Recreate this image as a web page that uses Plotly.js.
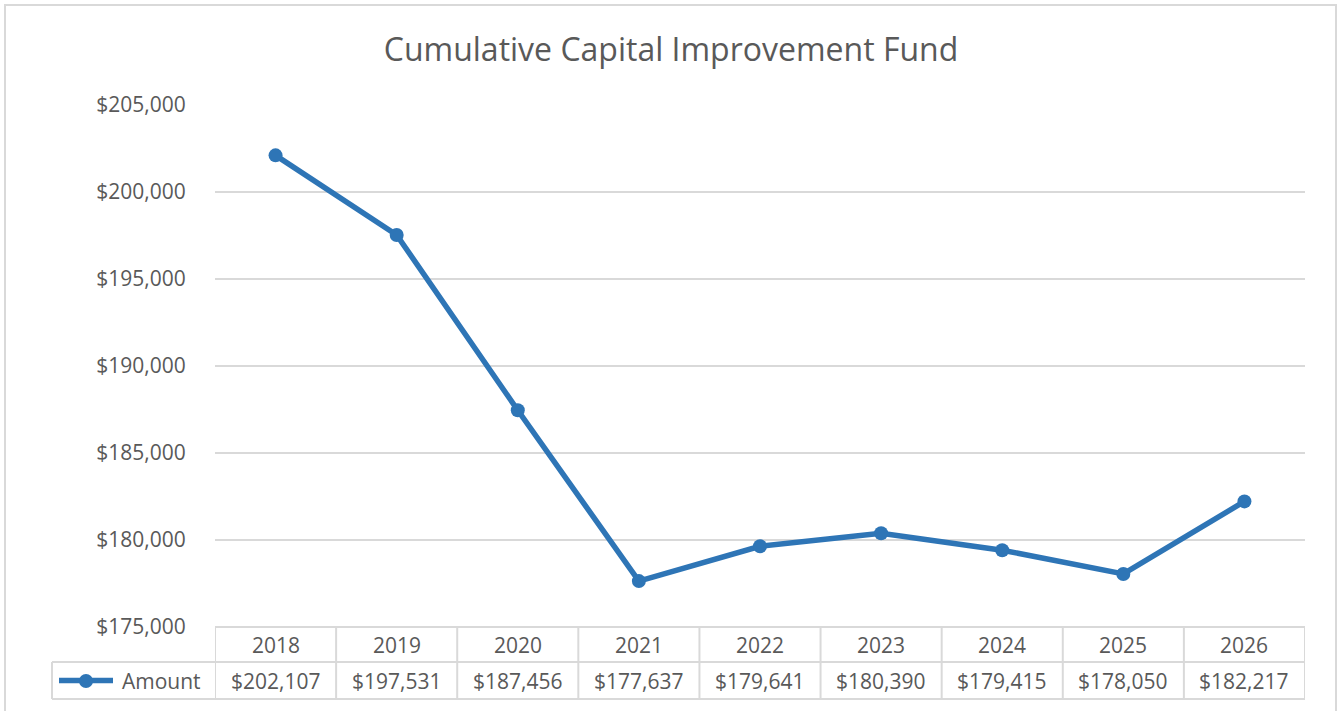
<!DOCTYPE html>
<html>
<head>
<meta charset="utf-8">
<script src="https://cdn.plot.ly/plotly-3.0.1.min.js"></script>
<style>html,body{margin:0;padding:0;background:#fff;}#chart{width:1342px;height:711px;}</style>
</head>
<body>
<div id="chart"></div>
<script>
const years = ['2018','2019','2020','2021','2022','2023','2024','2025','2026'];
const amount = [202107, 197531, 187456, 177637, 179641, 180390, 179415, 178050, 182217];
const seriesName = 'Amount';
const titleText = 'Cumulative Capital Improvement Fund';

const W = 1342, H = 711;
const L = 215, R = 1305, T = 105, B = 627;
const pw = R - L, ph = B - T;
const px = x => (x - L) / pw;
const py = y => (B - y) / ph;

const lineCol = '#d9d9d9';
const textCol = '#595959';
const blue = '#2e75b6';
const font = 'Open Sans, Noto Sans, sans-serif';

const fmt = v => '$' + v.toLocaleString('en-US');

const shapes = [];
const annotations = [];
const rowTop = 627, rowMid = 662, rowBot = 699, legLeft = 52;

// outer chart border
shapes.push({type:'rect', xref:'paper', yref:'paper', x0:px(5), x1:px(1336), y0:py(5), y1:py(716),
  line:{color:lineCol, width:2}, fillcolor:'rgba(0,0,0,0)', layer:'below'});

// table horizontal lines
shapes.push({type:'line', xref:'paper', yref:'paper', x0:px(L), x1:px(R), y0:py(rowTop), y1:py(rowTop), line:{color:lineCol, width:2}});
shapes.push({type:'line', xref:'paper', yref:'paper', x0:px(legLeft), x1:px(R), y0:py(rowMid), y1:py(rowMid), line:{color:lineCol, width:2}});
shapes.push({type:'line', xref:'paper', yref:'paper', x0:px(legLeft), x1:px(R), y0:py(rowBot), y1:py(rowBot), line:{color:lineCol, width:2}});
// legend cell left border
shapes.push({type:'line', xref:'paper', yref:'paper', x0:px(legLeft), x1:px(legLeft), y0:py(rowMid), y1:py(rowBot), line:{color:lineCol, width:2}});
// vertical column lines
for (let i = 0; i <= years.length; i++) {
  shapes.push({type:'line', xref:'x', yref:'paper', x0:i-0.5, x1:i-0.5, y0:py(rowTop), y1:py(rowBot), line:{color:lineCol, width:2}});
}
// cell texts
years.forEach((yr, i) => {
  annotations.push({xref:'x', yref:'paper', x:i, y:py((rowTop+rowMid)/2), text:yr, showarrow:false,
    xanchor:'center', yanchor:'middle', font:{family:font, size:21, color:textCol}});
  annotations.push({xref:'x', yref:'paper', x:i, y:py((rowMid+rowBot)/2), text:fmt(amount[i]), showarrow:false,
    xanchor:'center', yanchor:'middle', font:{family:font, size:21, color:textCol}});
});
// legend key in table
const ly = py((rowMid+rowBot)/2);
shapes.push({type:'line', xref:'paper', yref:'paper', x0:px(59), x1:px(113), y0:ly, y1:ly, line:{color:blue, width:5.5}});
shapes.push({type:'circle', xref:'paper', yref:'paper', x0:px(79), x1:px(93), y0:py(674), y1:py(688), fillcolor:blue, line:{color:blue, width:0}});
annotations.push({xref:'paper', yref:'paper', x:px(161), y:ly, text:seriesName, showarrow:false,
  xanchor:'center', yanchor:'middle', font:{family:font, size:21, color:textCol}});

const trace = {
  type:'scatter', mode:'lines+markers', x:years, y:amount, name:seriesName,
  line:{color:blue, width:5.5}, marker:{color:blue, size:14}, hoverinfo:'x+y'
};

const layout = {
  width:W, height:H,
  margin:{l:L, r:W-R, t:T, b:H-B, pad:0},
  paper_bgcolor:'#fff', plot_bgcolor:'#fff',
  showlegend:false,
  title:{text:titleText, x:0.5, xref:'container', xanchor:'center', y:1-50/H, yref:'container', yanchor:'middle',
    font:{family:font, size:32, color:textCol}},
  xaxis:{type:'category', range:[-0.5, years.length-0.5], showticklabels:false, showgrid:false,
    zeroline:false, showline:false, ticks:'', fixedrange:true},
  yaxis:{range:[175000, 205000], dtick:5000, tick0:175000, tickprefix:'$', tickformat:',d',
    showgrid:true, gridcolor:lineCol, gridwidth:2, zeroline:false, showline:false,
    ticks:'outside', ticklen:24, tickcolor:'rgba(0,0,0,0)',
    tickfont:{family:font, size:21, color:textCol}, fixedrange:true},
  shapes:shapes, annotations:annotations
};

Plotly.newPlot('chart', [trace], layout, {displayModeBar:false, staticPlot:true});
</script>
</body>
</html>
